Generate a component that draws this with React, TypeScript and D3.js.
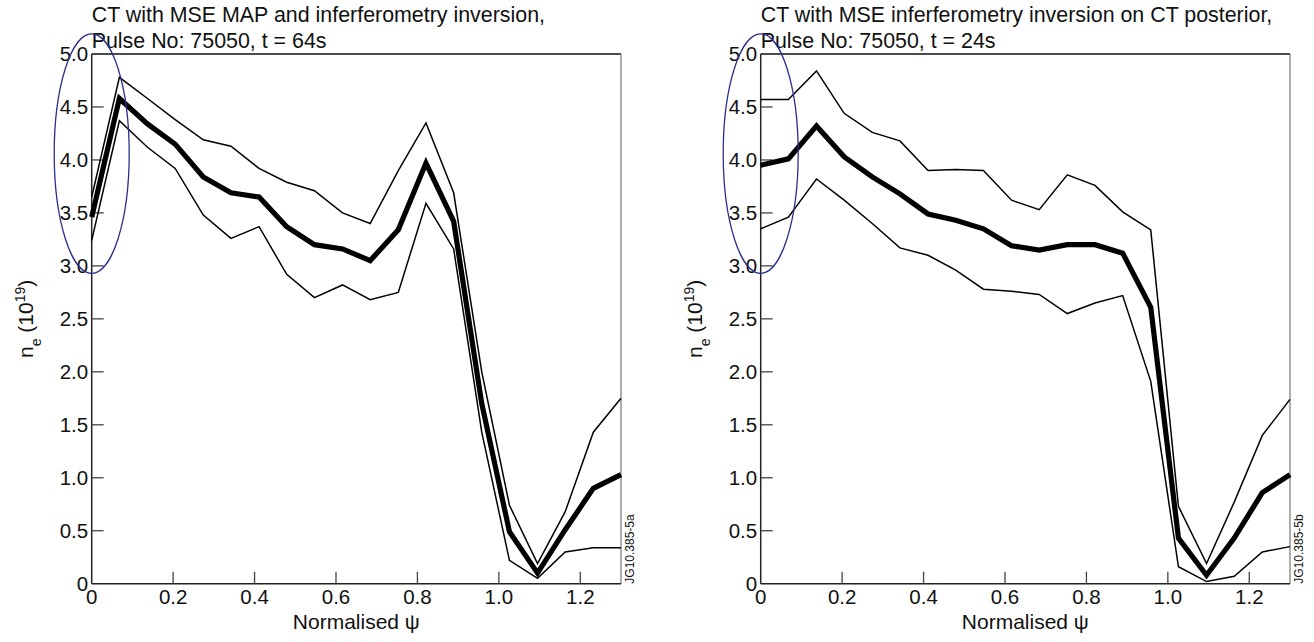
import React from "react";
import * as d3 from "d3";

const psi = [0, 0.068, 0.137, 0.205, 0.274, 0.342, 0.411, 0.479, 0.547, 0.616, 0.684, 0.753, 0.821, 0.889, 0.958, 1.026, 1.095, 1.163, 1.232, 1.3];

const leftMean = [3.46, 4.58, 4.34, 4.15, 3.84, 3.69, 3.65, 3.37, 3.2, 3.16, 3.05, 3.34, 3.97, 3.42, 1.7, 0.49, 0.1, 0.51, 0.9, 1.03];
const leftUpper = [3.65, 4.78, 4.58, 4.38, 4.19, 4.13, 3.92, 3.79, 3.71, 3.5, 3.4, 3.9, 4.35, 3.69, 2.0, 0.74, 0.19, 0.68, 1.43, 1.75];
const leftLower = [3.24, 4.37, 4.12, 3.92, 3.48, 3.26, 3.37, 2.92, 2.7, 2.82, 2.68, 2.75, 3.59, 3.16, 1.43, 0.22, 0.05, 0.3, 0.34, 0.34];

const rightMean = [3.95, 4.01, 4.32, 4.03, 3.84, 3.68, 3.49, 3.43, 3.35, 3.19, 3.15, 3.2, 3.2, 3.12, 2.61, 0.43, 0.08, 0.43, 0.86, 1.03];
const rightUpper = [4.57, 4.57, 4.84, 4.44, 4.26, 4.18, 3.9, 3.91, 3.9, 3.62, 3.53, 3.86, 3.76, 3.51, 3.34, 0.73, 0.19, 0.77, 1.4, 1.74];
const rightLower = [3.35, 3.46, 3.82, 3.62, 3.4, 3.17, 3.1, 2.96, 2.78, 2.76, 2.73, 2.55, 2.65, 2.72, 1.91, 0.16, 0.02, 0.07, 0.3, 0.35];

const xTicks = [0, 0.2, 0.4, 0.6, 0.8, 1.0, 1.2];
const xTickLabels = ["0", "0.2", "0.4", "0.6", "0.8", "1.0", "1.2"];
const yTicks = [0, 0.5, 1.0, 1.5, 2.0, 2.5, 3.0, 3.5, 4.0, 4.5, 5.0];
const yTickLabels = ["0", "0.5", "1.0", "1.5", "2.0", "2.5", "3.0", "3.5", "4.0", "4.5", "5.0"];

const leftTitle = ["CT with MSE MAP and inferferometry inversion,", "Pulse No: 75050, t = 64s"];
const rightTitle = ["CT with MSE inferferometry inversion on CT posterior,", "Pulse No: 75050, t = 24s"];

const FONT = "'Liberation Sans', Arial, Helvetica, sans-serif";

type PanelProps = {
  x0: number;
  title: string[];
  mean: number[];
  upper: number[];
  lower: number[];
  code: string;
};

function Panel({ x0, title, mean, upper, lower, code }: PanelProps) {
  const W = 529.3;
  const top = 54;
  const bottom = 583.7;
  const x = d3.scaleLinear().domain([0, 1.3]).range([x0, x0 + W]);
  const y = d3.scaleLinear().domain([0, 5]).range([bottom, top]);
  const line = d3
    .line<number>()
    .x((_, i) => x(psi[i]))
    .y((d) => y(d));
  const ellCy = y(4.06);
  const ellRy = y(2.93) - y(4.06);
  return (
    <g>
      <text x={x0} y={21.5} fontFamily={FONT} fontSize={21.4} fill="#111">
        {title[0]}
      </text>
      <text x={x0} y={47.5} fontFamily={FONT} fontSize={21.4} fill="#111">
        {title[1]}
      </text>
      {/* frame */}
      <line x1={x0} x2={x0 + W} y1={top} y2={top} stroke="#111" strokeWidth={1.3} />
      <line x1={x0 + W} x2={x0 + W} y1={top} y2={bottom} stroke="#777" strokeWidth={1.2} />
      <line x1={x0} x2={x0} y1={top} y2={bottom} stroke="#222" strokeWidth={1.5} />
      <line x1={x0} x2={x0 + W} y1={bottom} y2={bottom} stroke="#222" strokeWidth={1.5} />
      {/* y ticks */}
      {yTicks.map((t, i) => (
        <g key={"y" + i}>
          {t > 0 && t < 5 && (
            <line x1={x0} x2={x0 + 12} y1={y(t)} y2={y(t)} stroke="#444" strokeWidth={1.3} />
          )}
          <text
            x={x0 - 3.5}
            y={y(t)}
            dy="0.36em"
            textAnchor="end"
            fontFamily={FONT}
            fontSize={20.5}
            fill="#111"
          >
            {yTickLabels[i]}
          </text>
        </g>
      ))}
      {/* x ticks */}
      {xTicks.map((t, i) => (
        <g key={"x" + i}>
          {t > 0 && (
            <line x1={x(t)} x2={x(t)} y1={bottom} y2={bottom - 12} stroke="#444" strokeWidth={1.3} />
          )}
          <text
            x={x(t)}
            y={604}
            textAnchor="middle"
            fontFamily={FONT}
            fontSize={20.5}
            fill="#111"
          >
            {xTickLabels[i]}
          </text>
        </g>
      ))}
      <text x={x0 + W / 2} y={628.5} textAnchor="middle" fontFamily={FONT} fontSize={21} fill="#111">
        Normalised ψ
      </text>
      <text
        transform={`translate(${x0 - 59},${(top + bottom) / 2}) rotate(-90)`}
        textAnchor="middle"
        fontFamily={FONT}
        fontSize={21}
        fill="#111"
      >
        n<tspan baselineShift="sub" fontSize={14}>e</tspan>
        <tspan> (10</tspan>
        <tspan baselineShift="super" fontSize={14}>19</tspan>
        <tspan>)</tspan>
      </text>
      <text
        transform={`translate(${x0 + W + 13},${bottom}) rotate(-90)`}
        textAnchor="start"
        fontFamily={FONT}
        fontSize={12}
        fill="#111"
      >
        {code}
      </text>
      {/* data */}
      <path d={line(upper) || ""} fill="none" stroke="#000" strokeWidth={1.5} strokeLinejoin="miter" />
      <path d={line(lower) || ""} fill="none" stroke="#000" strokeWidth={1.5} strokeLinejoin="miter" />
      <path d={line(mean) || ""} fill="none" stroke="#000" strokeWidth={5.2} strokeLinejoin="miter" />
      <ellipse cx={x(0)} cy={ellCy} rx={37.5} ry={ellRy} fill="none" stroke="#2b2f8f" strokeWidth={1.3} />
    </g>
  );
}

export default function App() {
  return (
    <svg
      width={1314}
      height={642}
      style={{ position: "absolute", left: 0, top: 0, background: "#fff" }}
    >
      <rect x={0} y={0} width={1314} height={642} fill="#fff" />
      <Panel x0={91.7} title={leftTitle} mean={leftMean} upper={leftUpper} lower={leftLower} code="JG10.385-5a" />
      <Panel x0={760.7} title={rightTitle} mean={rightMean} upper={rightUpper} lower={rightLower} code="JG10.385-5b" />
    </svg>
  );
}
